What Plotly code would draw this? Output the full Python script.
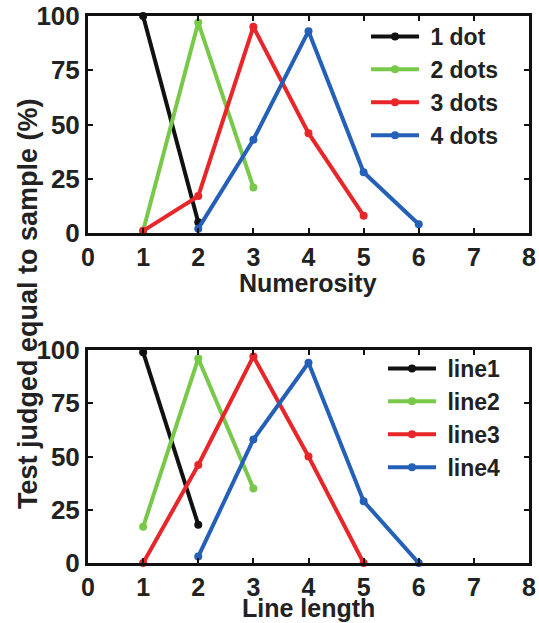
import plotly.graph_objects as go

dots_names = ["1 dot", "2 dots", "3 dots", "4 dots"]
dots_x = [[1, 2], [1, 2, 3], [1, 2, 3, 4, 5], [2, 3, 4, 5, 6]]
dots_y = [[100, 5], [1, 97, 21], [1, 17, 95, 46, 8], [2, 43, 93, 28, 4]]

line_names = ["line1", "line2", "line3", "line4"]
line_x = [[1, 2], [1, 2, 3], [1, 2, 3, 4, 5], [2, 3, 4, 5, 6]]
line_y = [[99, 18], [17, 96, 35], [0, 46, 97, 50, 0], [3, 58, 94, 29, 0]]

colors = ["#111111", "#78c84a", "#e8262a", "#2560b8"]
x_ticks = [0, 1, 2, 3, 4, 5, 6, 7, 8]
y_ticks = [0, 25, 50, 75, 100]

W, H = 539, 623
FAM = "Liberation Sans, Arial, sans-serif"
FONT = dict(family=FAM, size=26, color="#222222", weight="bold")
BFONT = dict(family=FAM, size=25, color="#222222", weight="bold")
YFONT = dict(family=FAM, size=27, color="#222222", weight="bold")
LFONT = dict(family=FAM, size=23, color="#222222", weight="bold")

fig = go.Figure()
for i in range(4):
    fig.add_trace(go.Scatter(x=dots_x[i], y=dots_y[i], name=" " + dots_names[i], mode="lines+markers",
                             line=dict(color=colors[i], width=4), marker=dict(color=colors[i], size=8),
                             xaxis="x", yaxis="y", legend="legend", cliponaxis=False))
for i in range(4):
    fig.add_trace(go.Scatter(x=line_x[i], y=line_y[i], name=" " + line_names[i], mode="lines+markers",
                             line=dict(color=colors[i], width=4), marker=dict(color=colors[i], size=8),
                             xaxis="x2", yaxis="y2", legend="legend2", cliponaxis=False))

xdom = [88 / W, 529 / W]
ax_common = dict(showgrid=False, zeroline=False, showline=True, linecolor="#111111", linewidth=3,
                 mirror="ticks", ticks="inside", ticklen=5, tickwidth=2, tickcolor="#111111",
                 automargin=False)
fig.update_layout(
    width=W, height=H, margin=dict(l=0, r=0, t=0, b=0, autoexpand=False),
    paper_bgcolor="white", plot_bgcolor="white", font=FONT,
    xaxis=dict(domain=xdom, range=[0, 8], tickvals=x_ticks, anchor="y", tickfont=BFONT, **ax_common),
    yaxis=dict(domain=[1 - 233 / H, 1 - 16 / H], range=[0, 100], tickvals=y_ticks, anchor="x",
               tickfont=FONT, **ax_common),
    xaxis2=dict(domain=xdom, range=[0, 8], tickvals=x_ticks, anchor="y2", tickfont=BFONT, **ax_common),
    yaxis2=dict(domain=[1 - 563 / H, 1 - 350 / H], range=[0, 100], tickvals=y_ticks, anchor="x2",
                tickfont=FONT, **ax_common),
    legend=dict(x=366 / W, y=1 - 15 / H, xanchor="left", yanchor="top", bgcolor="rgba(0,0,0,0)",
                font=LFONT, itemwidth=48, tracegroupgap=0),
    legend2=dict(x=383 / W, y=1 - 347 / H, xanchor="left", yanchor="top", bgcolor="rgba(0,0,0,0)",
                 font=LFONT, itemwidth=48, tracegroupgap=0),
    annotations=[
        dict(text="Test judged equal to sample (%)", xref="paper", yref="paper",
             x=28 / W, y=1 - 304 / H, textangle=-90, showarrow=False, font=YFONT,
             xanchor="center", yanchor="middle"),
        dict(text="Numerosity", xref="paper", yref="paper", x=308 / W, y=1 - 283 / H,
             showarrow=False, font=BFONT, xanchor="center", yanchor="middle"),
        dict(text="Line length", xref="paper", yref="paper", x=308 / W, y=1 - 608 / H,
             showarrow=False, font=BFONT, xanchor="center", yanchor="middle"),
    ],
)
fig.write_html("out.html")
